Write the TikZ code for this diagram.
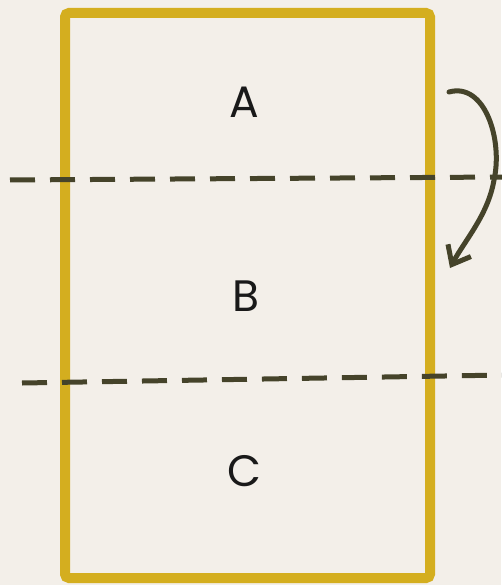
\documentclass[tikz,border=0pt]{standalone}
\usepackage{fontspec}
\setmainfont{Poppins}
\usetikzlibrary{arrows.meta}
\definecolor{bg}{HTML}{F3EFE9}
\definecolor{gold}{HTML}{D4AE1F}
\definecolor{ink}{HTML}{45432A}
\tikzset{
  label text/.style={font=\fontsize{44}{48}\selectfont, text=black!90},
  cut line/.style={draw=ink, line width=5pt, dash pattern=on 25pt off 15pt},
  box edge/.style={draw=gold, line width=10pt, rounded corners=4pt},
  move arrow/.style={draw=ink, line width=5pt, line cap=round, -{Straight Barb[length=16pt,width=26pt,line width=5pt]}}
}
\begin{document}
\begin{tikzpicture}[x=1pt,y=-1pt]
\fill[bg] (0,0) rectangle (501,585);
\useasboundingbox (0,0) rectangle (501,585);
\draw[box edge] (65,13) rectangle (430,578);
\coordinate (l1a) at (10,180);
\coordinate (l1b) at (505,177);
\coordinate (l2a) at (22,383);
\coordinate (l2b) at (505,375);
\draw[cut line] (l1a) -- (l1b);
\draw[cut line] (l2a) -- (l2b);
\node[label text] (A) at (244,102) {A};
\node[label text] (B) at (246,296) {B};
\node[label text] (C) at (244,471) {C};
\coordinate (s) at (449,92);
\coordinate (m) at (494,180);
\coordinate (e) at (450,268);
\draw[move arrow] (s) .. controls (485,82) and (503,140) .. (m) .. controls (488,215) and (465,240) .. (e);
\end{tikzpicture}
\end{document}
